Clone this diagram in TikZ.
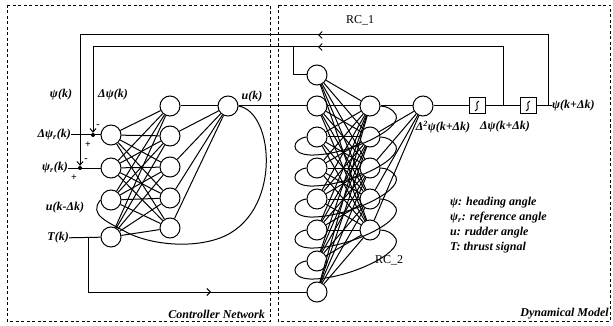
\documentclass[tikz,border=0pt]{standalone}
\usepackage{fontspec}
\setmainfont{Liberation Serif}
\usetikzlibrary{arrows.meta}
\begin{document}
\begin{tikzpicture}[x=1pt,y=-1pt,
  neuron/.style={circle,draw,line width=1pt,minimum size=20pt,inner sep=0pt},
  wire/.style={line width=1pt},
  sbox/.style={draw,line width=1pt,minimum size=16pt,inner sep=0pt},
  sdot/.style={circle,fill,inner sep=0pt,minimum size=4pt},
  lbl/.style={font=\bfseries\itshape\fontsize{12}{14}\selectfont,inner sep=0pt},
  rc/.style={font=\fontsize{12}{14}\selectfont,inner sep=0pt},
  sign/.style={font=\bfseries\fontsize{10}{11}\selectfont,inner sep=0pt},
  frame/.style={line width=0.8pt,dash pattern=on 3pt off 2.5pt},
  barb/.style={-{Straight Barb[length=3.5pt,width=7pt]}},
]
\useasboundingbox (0,0) rectangle (613,326);
% frames
\draw[frame] (7,5) rectangle (270,321);
\draw[frame] (278,5) rectangle (610,321);

% controller network
\foreach \n/\y in {1/135,2/168,3/200,4/237} \node[neuron] (I\n) at (111,\y) {};
\foreach \n/\y in {1/106,2/136,3/167,4/198,5/228} \node[neuron] (H\n) at (170,\y) {};
\node[neuron] (O) at (228,106) {};
\foreach \i in {1,...,4} \foreach \h in {1,...,5} \draw[wire] (I\i) -- (H\h);
\foreach \h in {1,...,5} \draw[wire] (H\h) -- (O);

% dynamical model
\foreach \n/\y in {1/75,2/106,3/137,4/168,5/199,6/230,7/261,8/292} \node[neuron] (D\n) at (317,\y) {};
\foreach \n/\y in {1/106,2/137,3/168,4/199,5/230} \node[neuron] (E\n) at (370,\y) {};
\node[neuron] (F) at (423,106) {};
\foreach \i in {1,...,8} \foreach \h in {1,...,5} \draw[wire] (D\i) -- (E\h);
\foreach \h in {1,...,5} \draw[wire] (E\h) -- (F);

% integrator boxes
\node[sbox] (B1) at (477,106) {};
\node[sbox] (B2) at (528,106) {};
\foreach \b in {B1,B2} \draw[wire] ([shift={(2,-5)}]\b.center) .. controls ([shift={(-3,-4)}]\b.center) and ([shift={(3,4)}]\b.center) .. ([shift={(-2,5)}]\b.center);
\node[lbl,anchor=west] (psiout) at (552,106) {ψ(k+Δk)};
\draw[wire] (F) -- (B1);
\draw[wire] (B1) -- (B2);
\draw[wire] (B2) -- (psiout);

% labels on the main line
\node[lbl] (d2lab) at (443,127) {Δ\textsuperscript{2}ψ(k+Δk)};
\node[lbl] (d1lab) at (505,127) {Δψ(k+Δk)};
\node[rc] (rc1) at (360,20) {RC\_1};
\node[rc] (rc2) at (389,260) {RC\_2};

% summing junctions
\node[sdot] (s1) at (93,135) {};
\node[sdot] (s2) at (80,168) {};
\node[sign] (m1) at (98,126) {-};
\node[sign] (p1) at (88,145) {+};
\node[sign] (m2) at (86,160) {-};
\node[sign] (p2) at (74,178) {+};

% feedback RC_1
\coordinate (j1) at (503,106);
\coordinate (j2) at (548,106);
\coordinate (j1t) at (503,47);
\coordinate (j2t) at (548,35);
\coordinate (c1t) at (93,47);
\coordinate (c2t) at (80,35);
\draw[wire,-{Straight Barb[length=3.5pt,width=6pt]}] (j2) -- (j2t) -- (c2t) -- (s2);
\draw[wire,-{Straight Barb[length=3.5pt,width=6pt]}] (j1) -- (j1t) -- (c1t) -- (s1);
\coordinate (br1) at (293,47);
\coordinate (br2) at (293,75);
\draw[wire] (br1) -- (br2) -- (D1);
\coordinate (a1s) at (326,35); \coordinate (a1e) at (318,35);
\coordinate (a2s) at (326,47); \coordinate (a2e) at (318,47);
\draw[wire,barb] (a1s) -- (a1e);
\draw[wire,barb] (a2s) -- (a2e);

% input labels
\node[lbl] (psik) at (61,95) {ψ(k)};
\node[lbl] (dpsik) at (113,95) {Δψ(k)};
\node[lbl] (uk) at (252,97) {u(k)};
\node[lbl,anchor=east] (dpsir) at (71,135) {Δψ\textsubscript{r}(k)};
\node[lbl,anchor=east] (psir) at (68,168) {ψ\textsubscript{r}(k)};
\node[lbl] (ukd) at (65,208) {u(k-Δk)};
\node[lbl,anchor=east] (Tk) at (69,238) {T(k)};
\draw[wire] (dpsir) -- (I1);
\draw[wire] (psir) -- (I2);
\draw[wire] (Tk) -- (I4);
\draw[wire] (O) -- (D2);

% thrust line to dynamical model
\coordinate (t1) at (88,237);
\coordinate (t2) at (88,292);
\draw[wire] (t1) -- (t2) -- (D8);
\coordinate (a3s) at (203,292); \coordinate (a3e) at (211,292);
\draw[wire,barb] (a3s) -- (a3e);

% controller recurrent connection
\draw[wire] (O.east) .. controls (275,112) and (282,215) .. (220,238)
  .. controls (190,249) and (150,244) .. (128,233)
  .. controls (108,222) and (88,215) .. (I3.west);

% dynamical model recurrent connections RC_2
\foreach \i/\j/\yh/\yi in {1/3/106/137,2/4/137/168,3/5/168/199,4/6/199/230,5/7/230/261}
  \draw[wire] (D\j.west) .. controls (292,\yi+2) and (289,\yi+17) .. (310,\yi+18)
    .. controls (345,\yi+19) and (402,\yh+24) .. (396,\yh+9)
    .. controls (393,\yh+3) and (386,\yh) .. (E\i.east);

% legend
\node[lbl,anchor=west] (lg1) at (450,203) {ψ: heading angle};
\node[lbl,anchor=west] (lg2) at (450,218) {ψ\textsubscript{r}: reference angle};
\node[lbl,anchor=west] (lg3) at (450,233) {u: rudder angle};
\node[lbl,anchor=west] (lg4) at (450,248) {T: thrust signal};

% titles
\node[lbl,anchor=east] (cn) at (265,314) {Controller Network};
\node[lbl,anchor=east] (dm) at (609,314) {Dynamical Model};
\end{tikzpicture}
\end{document}
